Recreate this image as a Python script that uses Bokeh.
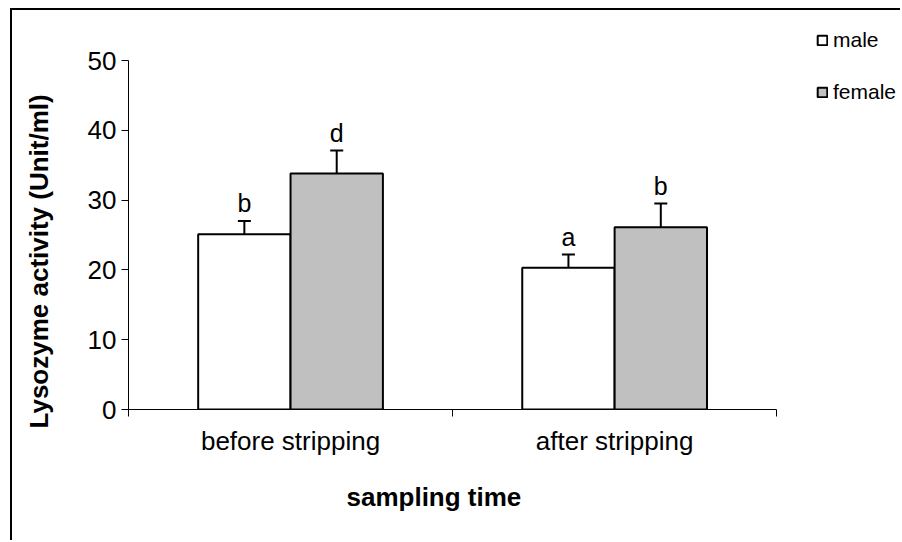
from bokeh.plotting import figure
from bokeh.models import (Range1d, FixedTicker, ColumnDataSource, Whisker, TeeHead,
                          LabelSet, Legend, LegendItem, Title)
from bokeh.core.properties import value
from bokeh.embed import file_html
from bokeh.resources import INLINE

categories = ["before stripping", "after stripping"]
groups = ["male", "female"]
male = [25.1, 20.3]
female = [33.8, 26.1]
male_err = [1.9, 1.9]
female_err = [3.3, 3.4]
male_letters = ["b", "a"]
female_letters = ["d", "b"]
y_ticks = [0, 10, 20, 30, 40, 50]
Y_MAX = 50
x_title = "sampling time"
y_title = "Lysozyme activity (Unit/ml)"

FONT = "Liberation Sans"
BAR_W = 0.285

# frame geometry (pixels inside the canvas)
W, H = 910, 532
F_LEFT, F_BOTTOM = 137, 131
AXIS_RIGHT_PX = 649      # pixel length of the category axis
AXIS_TOP_PX = 349        # pixel height of the 0..50 value axis
frame_w = W - F_LEFT
frame_h = H - F_BOTTOM
n = len(categories)
x_end = n * frame_w / AXIS_RIGHT_PX
y_end = Y_MAX * frame_h / AXIS_TOP_PX

p = figure(width=W, height=H, output_backend="svg", toolbar_location=None,
           x_range=Range1d(0, x_end), y_range=Range1d(0, y_end),
           min_border_left=F_LEFT, min_border_right=0, min_border_top=0,
           min_border_bottom=F_BOTTOM)
# outer chart-area border (left and top edges) drawn as thin CSS background lines
p.styles = {
    "margin-left": "-10px",
    "margin-top": "8px",
    "background-image": "linear-gradient(#000, #000), linear-gradient(#000, #000)",
    "background-size": "2px 100%, 100% 2px",
    "background-position": "20px 0px, 20px 0px",
    "background-repeat": "no-repeat",
}
p.outline_line_color = None
p.xgrid.visible = False
p.ygrid.visible = False
p.background_fill_alpha = 0
p.border_fill_alpha = 0

centers = [i + 0.5 for i in range(n)]


def make_src(vals, errs, letters, shift):
    return ColumnDataSource(dict(
        x=[c + shift for c in centers],
        top=vals,
        upper=[v + e for v, e in zip(vals, errs)],
        lab=letters,
    ))


src_m = make_src(male, male_err, male_letters, -BAR_W / 2)
src_f = make_src(female, female_err, female_letters, BAR_W / 2)

r_m = p.vbar(x="x", top="top", bottom=0, width=BAR_W, source=src_m,
             fill_color="white", line_color="black", line_width=2)
r_f = p.vbar(x="x", top="top", bottom=0, width=BAR_W, source=src_f,
             fill_color="#c0c0c0", line_color="black", line_width=2)

for src in (src_m, src_f):
    p.add_layout(Whisker(source=src, base="x", lower="top", upper="upper",
                         dimension="height", line_width=2, line_color="black",
                         upper_head=TeeHead(size=13, line_width=2, line_color="black"),
                         lower_head=None))
    p.add_layout(LabelSet(source=src, x="x", y="upper", text="lab",
                          text_align="center", text_baseline="bottom", y_offset=4,
                          text_font=value(FONT), text_font_size="25px",
                          text_color="black"))

# x axis
xa = p.xaxis[0]
xa.bounds = (0, n)
xa.ticker = FixedTicker(ticks=centers, minor_ticks=list(range(n + 1)))
xa.major_label_overrides = {c: lab for c, lab in zip(centers, categories)}
xa.major_tick_line_color = None
xa.major_tick_out = 0
xa.major_tick_in = 0
xa.minor_tick_out = 7
xa.minor_tick_in = 0
xa.minor_tick_line_color = "black"
xa.axis_line_color = "black"
xa.major_label_text_font = FONT
xa.major_label_text_font_size = "26px"
xa.major_label_text_color = "black"
xa.major_label_standoff = 9

# y axis
ya = p.yaxis[0]
ya.bounds = (0, Y_MAX)
ya.ticker = FixedTicker(ticks=y_ticks)
ya.major_tick_out = 7
ya.major_tick_in = 0
ya.minor_tick_line_color = None
ya.axis_line_color = "black"
ya.major_tick_line_color = "black"
ya.major_label_text_font = FONT
ya.major_label_text_font_size = "26px"
ya.major_label_text_color = "black"
ya.major_label_standoff = 5

# axis titles (placed as panel titles so they can sit off-centre like the original)
p.add_layout(Title(text=x_title, align="left", offset=218, standoff=42,
                   text_font=FONT, text_font_style="bold", text_font_size="26px",
                   text_color="black"), "below")
p.add_layout(Title(text=y_title, align="left", offset=-19, standoff=62,
                   text_font=FONT, text_font_style="bold", text_font_size="26px",
                   text_color="black"), "left")

legend = Legend(items=[LegendItem(label=groups[0], renderers=[r_m]),
                       LegendItem(label=groups[1], renderers=[r_f])],
                location=(688, 305), glyph_width=12, glyph_height=12,
                label_text_font=FONT, label_text_font_size="21px",
                label_text_color="black", label_standoff=5, spacing=28,
                padding=0, margin=0, border_line_color=None,
                background_fill_alpha=0)
p.add_layout(legend)

open("out.html", "w").write(file_html(p, INLINE))
